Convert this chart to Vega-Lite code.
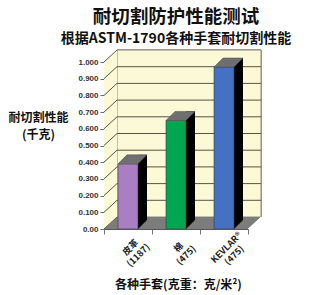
{
  "$schema": "https://vega.github.io/schema/vega-lite/v6.json",
  "autosize": "none",
  "width": 144,
  "height": 167,
  "padding": {"left": 104, "top": 62, "right": 73, "bottom": 66},
  "background": "white",
  "title": {
    "text": "耐切割防护性能测试",
    "subtitle": "根据ASTM-1790各种手套耐切割性能",
    "font": "Noto Sans CJK SC",
    "fontSize": 18.5,
    "fontWeight": "bold",
    "color": "#111111",
    "subtitleFont": "Noto Sans CJK SC",
    "subtitleFontSize": 14,
    "subtitleFontWeight": "bold",
    "subtitleColor": "#111111",
    "subtitlePadding": 5,
    "anchor": "middle",
    "offset": 4
  },
  "datasets": {
    "gloves": [
      {"glove": "皮革", "weight": 1187, "value": 0.39},
      {"glove": "棉", "weight": 475, "value": 0.65},
      {"glove": "KEVLAR®", "weight": 475, "value": 0.97}
    ],
    "grid": [
      {"t": 0.0}, {"t": 0.1}, {"t": 0.2}, {"t": 0.3}, {"t": 0.4}, {"t": 0.5},
      {"t": 0.6}, {"t": 0.7}, {"t": 0.8}, {"t": 0.9}, {"t": 1.0}
    ]
  },
  "data": {"name": "gloves"},
  "config": {
    "view": {"stroke": null},
    "axis": {"labelFont": "Liberation Sans", "titleFont": "Noto Sans CJK SC"}
  },
  "encoding": {
    "x": {
      "field": "glove",
      "type": "nominal",
      "sort": ["皮革", "棉", "KEVLAR®"],
      "scale": {"domain": ["皮革", "棉", "KEVLAR®"], "paddingInner": 0, "paddingOuter": 0},
      "axis": {
        "title": "各种手套(克重：克/米²)",
        "titleFontSize": 12,
        "titleFontWeight": "bold",
        "titleColor": "#111111",
        "titleBaseline": "middle",
        "titleY": 55,
        "titleX": 74,
        "tickBand": "extent",
        "tickSize": 5,
        "tickColor": "#777777",
        "domainColor": "#555555",
        "labelAngle": -45,
        "labelAlign": "center",
        "labelBaseline": "middle",
        "labelFont": "Noto Sans CJK SC",
        "labelFontSize": 9,
        "labelFontWeight": "bold",
        "labelColor": "#222222",
        "labelLineHeight": 11,
        "labelPadding": 13,
        "labelOffset": 2,
        "labelExpr": "datum.label == '皮革' ? ['皮革', '(1187)'] : datum.label == '棉' ? ['棉', '(475)'] : datum.label == 'KEVLAR®' ? ['KEVLAR®', '(475)'] : ''"
      }
    },
    "y": {
      "type": "quantitative",
      "scale": {"domain": [0, 1], "nice": false, "zero": true},
      "axis": {
        "values": [0, 0.1, 0.2, 0.3, 0.4, 0.5, 0.6, 0.7, 0.8, 0.9, 1.0],
        "labelExpr": "datum.value == 0 ? '0.00' : format(datum.value, '.3f')",
        "labelFontSize": 8,
        "labelColor": "#333333",
        "labelFontWeight": "bold",
        "labelPadding": 2,
        "tickSize": 4,
        "tickColor": "#666666",
        "domainColor": "#777777",
        "grid": false,
        "title": ["耐切割性能", "(千克)"],
        "titleAngle": 0,
        "titleAlign": "center",
        "titleBaseline": "middle",
        "titleX": -66,
        "titleY": 55,
        "titleFontSize": 12,
        "titleFontWeight": "bold",
        "titleColor": "#111111",
        "titleLineHeight": 17
      }
    }
  },
  "layer": [
    {
      "description": "back wall of the 3D frame",
      "mark": {"type": "rect", "fill": "#fbf9d6", "stroke": "#8a8a7a", "strokeWidth": 1,
               "xOffset": 13, "x2Offset": 13, "yOffset": -12, "y2Offset": -12},
      "encoding": {
        "x": {"datum": "皮革", "bandPosition": 0},
        "x2": {"datum": "KEVLAR®", "bandPosition": 1},
        "y": {"datum": 0},
        "y2": {"datum": 1}
      }
    },
    {
      "description": "left side wall",
      "mark": {"type": "rect", "fill": "#fbf9d6", "x2Offset": 13, "y2Offset": -12},
      "encoding": {
        "x": {"datum": "皮革", "bandPosition": 0},
        "x2": {"datum": "皮革", "bandPosition": 0},
        "y": {"datum": 0},
        "y2": {"datum": 1}
      }
    },
    {
      "description": "floor",
      "mark": {"type": "rect", "fill": "#7c7c7c", "x2Offset": 13, "y2Offset": -12},
      "encoding": {
        "x": {"datum": "皮革", "bandPosition": 0},
        "x2": {"datum": "KEVLAR®", "bandPosition": 1},
        "y": {"datum": 0},
        "y2": {"datum": 0}
      }
    },
    {
      "description": "wall corner where the floor meets the side wall",
      "mark": {"type": "point", "shape": "M-1,-0.923L1,-0.923L-1,0.923Z", "size": 169,
               "filled": true, "opacity": 1, "color": "#fbf9d6", "strokeWidth": 0,
               "xOffset": 6.5, "yOffset": -6},
      "encoding": {
        "x": {"datum": "皮革", "bandPosition": 0},
        "y": {"datum": 0}
      }
    },
    {
      "description": "trim above the side wall",
      "mark": {"type": "point", "shape": "M-1,-0.923L1,-0.923L-1,0.923Z", "size": 169,
               "filled": true, "opacity": 1, "color": "white", "strokeWidth": 0,
               "xOffset": 6.5, "yOffset": -6},
      "encoding": {
        "x": {"datum": "皮革", "bandPosition": 0},
        "y": {"datum": 1}
      }
    },
    {
      "description": "trim at the front right corner of the floor",
      "mark": {"type": "point", "shape": "M1,-0.923L1,0.923L-1,0.923Z", "size": 169,
               "filled": true, "opacity": 1, "color": "white", "strokeWidth": 0,
               "xOffset": 6.5, "yOffset": -6},
      "encoding": {
        "x": {"datum": "KEVLAR®", "bandPosition": 1},
        "y": {"datum": 0}
      }
    },
    {
      "description": "grid lines on the back wall",
      "data": {"name": "grid"},
      "transform": [{"filter": "datum.t > 0 && datum.t < 1"}],
      "mark": {"type": "rule", "color": "#55554a", "strokeWidth": 1,
               "xOffset": 13, "x2Offset": 13, "yOffset": -12},
      "encoding": {
        "x": {"datum": "皮革", "bandPosition": 0},
        "x2": {"datum": "KEVLAR®", "bandPosition": 1},
        "y": {"field": "t", "type": "quantitative"}
      }
    },
    {
      "description": "grid lines on the side wall",
      "data": {"name": "grid"},
      "mark": {"type": "rule", "color": "#55554a", "strokeWidth": 1,
               "x2Offset": 13, "y2Offset": -12},
      "encoding": {
        "x": {"datum": "皮革", "bandPosition": 0},
        "x2": {"datum": "皮革", "bandPosition": 0},
        "y": {"field": "t", "type": "quantitative"},
        "y2": {"field": "t"}
      }
    },
    {
      "description": "bar side faces",
      "mark": {"type": "bar", "width": 9, "color": "#000000", "xOffset": 14.5, "yOffset": -9},
      "encoding": {
        "y": {"field": "value", "type": "quantitative"},
        "y2": {"datum": 0}
      }
    },
    {
      "description": "floor showing under each side face",
      "mark": {"type": "point", "shape": "M-1,1L1,1L1,-1Z", "size": 81,
               "filled": true, "opacity": 1, "color": "#7c7c7c", "strokeWidth": 0,
               "xOffset": 14.5, "yOffset": -4.5},
      "encoding": {
        "y": {"datum": 0}
      }
    },
    {
      "description": "bar front faces",
      "mark": {"type": "bar", "width": 20, "stroke": "#3a3a3a", "strokeWidth": 0.6},
      "encoding": {
        "y": {"field": "value", "type": "quantitative"},
        "y2": {"datum": 0},
        "color": {
          "field": "glove",
          "type": "nominal",
          "scale": {"domain": ["皮革", "棉", "KEVLAR®"], "range": ["#a97fc3", "#00a651", "#4471c2"]},
          "legend": null
        }
      }
    },
    {
      "description": "bar top faces",
      "mark": {"type": "point",
               "shape": "M-1,0.3103L0.3793,0.3103L1,-0.3103L-0.3793,-0.3103Z",
               "size": 841, "filled": true, "opacity": 1, "color": "#6f6f6f",
               "stroke": "#4a4a4a", "strokeWidth": 0.5,
               "xOffset": 4.5, "yOffset": -4.5},
      "encoding": {
        "y": {"field": "value", "type": "quantitative"}
      }
    }
  ]
}
